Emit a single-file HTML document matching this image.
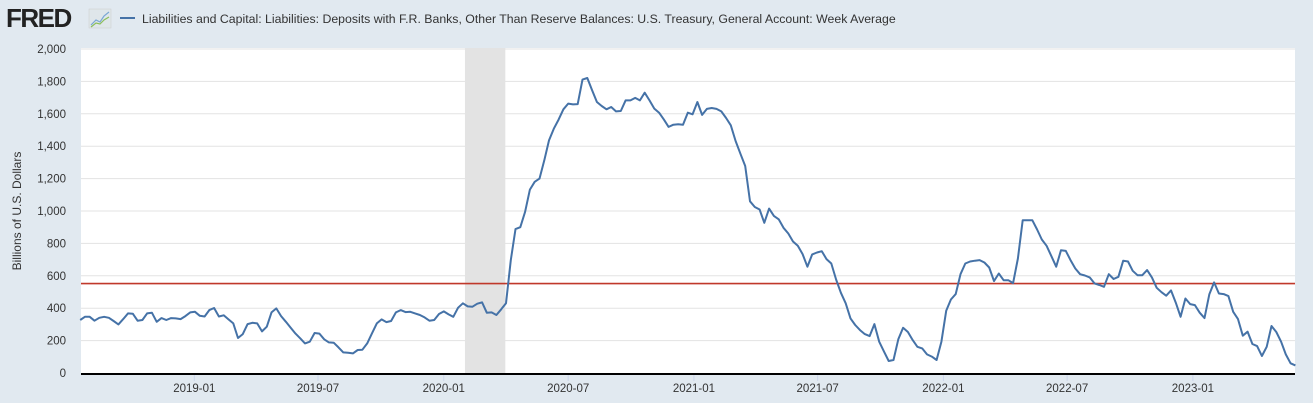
<!DOCTYPE html>
<html><head><meta charset="utf-8"><style>
html,body{margin:0;padding:0;background:#e1e9f0;}
svg{display:block;font-family:"Liberation Sans",sans-serif;}
</style></head><body>
<svg id="chart" width="1313" height="403" viewBox="0 0 1313 403" xmlns="http://www.w3.org/2000/svg">
<rect width="1313" height="403" fill="#e1e9f0"/>
<g>
<text x="6" y="27" font-size="26" font-weight="bold" fill="#222" letter-spacing="-1.5">FRED</text>
<rect x="89" y="9" width="22" height="19" fill="#dfe6ea" stroke="#ccc" stroke-width="0.5"/>
<polyline points="91,25 96,20 100,22 104,16 109,12" fill="none" stroke="#7aa7d4" stroke-width="1.2"/>
<polyline points="91,27 96,23 100,24 104,20 109,17" fill="none" stroke="#8cbf5a" stroke-width="1.2"/>
</g>
<g>
<line x1="120" y1="18" x2="135" y2="18" stroke="#4572a7" stroke-width="2"/>
<text x="142" y="23" font-size="12.3" fill="#333">Liabilities and Capital: Liabilities: Deposits with F.R. Banks, Other Than Reserve Balances: U.S. Treasury, General Account: Week Average</text>
</g>
<rect x="81" y="48" width="1214" height="325" fill="#fff"/>
<g id="grid"></g>
<g id="recession"></g>
<g id="yticks"></g>
<g id="xticks"></g>
<text transform="translate(21,211) rotate(-90)" text-anchor="middle" font-size="12" fill="#333">Billions of U.S. Dollars</text>
<g id="series"></g>
<line x1="81" y1="374" x2="1295" y2="374" stroke="#000" stroke-width="2"/>
</svg>
<script>
const yTicks=[0,200,400,600,800,1000,1200,1400,1600,1800,2000];
const yTickLabels=["0","200","400","600","800","1,000","1,200","1,400","1,600","1,800","2,000"];
const xTickDates=["2019-01-01","2019-07-01","2020-01-01","2020-07-01","2021-01-01","2021-07-01","2022-01-01","2022-07-01","2023-01-01"];
const xTickLabels=["2019-01","2019-07","2020-01","2020-07","2021-01","2021-07","2022-01","2022-07","2023-01"];
const recessionStart="2020-02-01";
const recessionEnd="2020-03-31";
const refLineValue=552;
const startDate="2018-07-18";
const endDate="2023-05-31";
const values=[327,347,347,323,341,347,341,321,300,333,368,366,323,327,368,372,316,339,327,339,337,333,351,374,378,353,349,388,401,349,356,331,306,216,240,302,310,306,257,286,374,399,351,316,279,243,214,183,193,247,243,208,189,187,158,127,125,121,142,144,183,245,306,331,314,321,374,388,376,378,368,358,343,323,327,364,380,362,347,403,430,411,409,428,
436,372,374,358,393,430,697,888,900,995,1132,1180,1200,1313,1436,1508,1564,1628,1663,1658,1660,1811,1821,1745,1673,1648,1628,1642,1615,1617,1683,1683,1698,1683,1730,1683,1632,1607,1564,1519,1533,1535,1533,1607,1597,1673,1593,1630,1636,1630,1615,1574,1529,1432,1354,1278,1060,1025,1009,927,1015,970,949,896,861,812,785,734,656,732,744,752,703,676,577,495,430,337,296,265,240,228,302,193,132,74,80,
208,279,253,203,162,152,115,101,80,193,384,454,487,610,676,688,693,697,682,651,567,614,573,573,555,707,943,943,943,886,824,785,721,656,758,754,697,645,610,602,590,553,543,532,610,580,594,693,688,631,604,604,635,590,526,499,477,510,434,347,460,425,419,372,339,485,559,491,487,475,378,333,230,255,179,166,105,162,290,253,193,115,60,47];

const NS="http://www.w3.org/2000/svg";
const day=864e5;
const x0=81,x1=1295,yTop=49,yBot=373;
const dRef=Date.parse("2019-01-01"), xRef=194.3, pxPerDay=0.6835;
function xScale(d){return xRef+(Date.parse(d)-dRef)/day*pxPerDay;}
function xScaleMs(ms){return xRef+(ms-dRef)/day*pxPerDay;}
function yScale(v){return yBot-(v/2000)*(yBot-yTop);}
function mk(tag,attrs,parent){const e=document.createElementNS(NS,tag);for(const k in attrs)e.setAttribute(k,attrs[k]);parent.appendChild(e);return e;}

const grid=document.getElementById('grid'),yt=document.getElementById('yticks'),xt=document.getElementById('xticks');
yTicks.forEach((v,i)=>{
  if(v>0){const g=mk('line',{x1:x0,x2:x1,y1:yScale(v),y2:yScale(v),stroke:'#e3e3e3','stroke-width':1},grid);
  
  }
  const t=mk('text',{x:66,y:yScale(v)+4,'text-anchor':'end','font-size':11.5,fill:'#333'},yt);
  t.textContent=yTickLabels[i];
  
  
});
xTickDates.forEach((d,i)=>{
  const x=xScale(d);
  const tk=mk('line',{x1:x,x2:x,y1:374,y2:381,stroke:'#ccd6eb','stroke-width':1},xt);
  
  
  const t=mk('text',{x:x,y:392,'text-anchor':'middle','font-size':11.5,fill:'#333'},xt);
  t.textContent=xTickLabels[i];
  
  
});
const rec=document.getElementById('recession');
const rx=xScale(recessionStart),rx2=xScale(recessionEnd);
const rr=mk('rect',{x:rx,y:48,width:rx2-rx,height:325,fill:'#e3e3e3'},rec);



const s=document.getElementById('series');
const sMs=Date.parse(startDate),eMs=Date.parse(endDate),n=values.length;
const pts=values.map((v,i)=>xScaleMs(sMs+(eMs-sMs)*i/(n-1)).toFixed(1)+','+yScale(v).toFixed(1)).join(' ');
const ref=mk('line',{x1:x0,x2:x1,y1:yScale(refLineValue),y2:yScale(refLineValue),stroke:'#c0392b','stroke-width':1.6},s);


const pl=mk('polyline',{points:pts,fill:'none',stroke:'#4572a7','stroke-width':2,'stroke-linejoin':'round'},s);


</script>
</body></html>
